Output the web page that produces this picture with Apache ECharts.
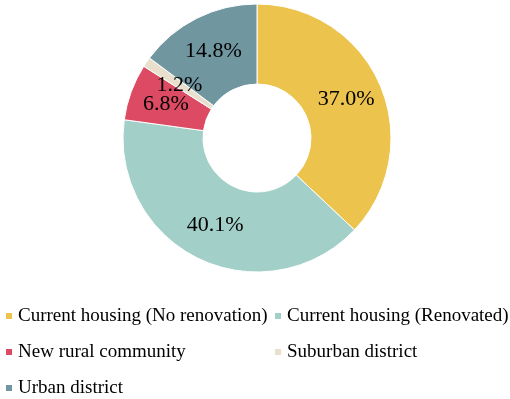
<!DOCTYPE html>
<html>
<head>
<meta charset="utf-8">
<script src="https://cdn.jsdelivr.net/npm/echarts@6/dist/echarts.min.js"></script>
<style>
  html, body { margin: 0; padding: 0; background: #fff; }
  #main { width: 510px; height: 399px; }
</style>
</head>
<body>
<div id="main"></div>
<script>
// housing types and their shares (%)
var categories = [
  'Current housing (No renovation)',
  'Current housing (Renovated)',
  'New rural community',
  'Suburban district',
  'Urban district'
];
var shares = [37.0, 40.1, 6.8, 1.2, 14.8];
var colors = ['#EBC34D', '#A2D0C8', '#DC4B63', '#E8DFCC', '#7096A0'];

var font = "'Liberation Serif', 'Times New Roman', serif";
var labelSize = 22;
var thinSlice = 3; // echarts hides inside labels of slices this thin

var myChart = echarts.init(document.getElementById('main'));

var pieData = categories.map(function (name, i) {
  var d = { name: name, value: shares[i], itemStyle: { color: colors[i] } };
  if (shares[i] < thinSlice) d.label = { show: false };
  return d;
});

var legendBase = {
  orient: 'vertical',
  padding: 0,
  itemWidth: 8,
  itemHeight: 8,
  itemGap: 16,
  icon: 'rect',
  top: 306,
  height: 100,
  textStyle: {
    fontFamily: font,
    fontSize: 19,
    lineHeight: 20,
    color: '#000'
  }
};

var option = {
  animation: false,
  legend: [
    Object.assign({}, legendBase, {
      left: 4,
      data: [categories[0], categories[2], categories[4]]
    }),
    Object.assign({}, legendBase, {
      left: 273,
      data: [categories[1], categories[3]]
    })
  ],
  series: [
    {
      type: 'pie',
      center: [257, 138],
      radius: [54, 134],
      startAngle: 90,
      clockwise: true,
      avoidLabelOverlap: false,
      itemStyle: {
        borderColor: '#fff',
        borderWidth: 1
      },
      label: {
        show: true,
        position: 'inside',
        padding: [4, 0, 0, 0],
        formatter: function (p) {
          return p.value.toFixed(1) + '%';
        },
        fontFamily: font,
        fontSize: labelSize,
        color: '#000'
      },
      labelLine: { show: false },
      emphasis: { disabled: true },
      data: pieData
    }
  ]
};

myChart.setOption(option);

// labels for the thin slices, at the slice middle from the pie's own layout
var seriesData = myChart.getModel().getSeriesByIndex(0).getData();
var extra = [];
for (var idx = 0; idx < seriesData.count(); idx++) {
  if (shares[idx] >= thinSlice) continue;
  var lay = seriesData.getItemLayout(idx);
  var mid = (lay.startAngle + lay.endAngle) / 2;
  var rm = (lay.r + lay.r0) / 2;
  extra.push({
    type: 'text',
    z: 100,
    x: lay.cx + Math.cos(mid) * rm,
    y: lay.cy + Math.sin(mid) * rm,
    style: {
      text: shares[idx].toFixed(1) + '%',
      fontFamily: font,
      fontSize: labelSize,
      fill: '#000',
      align: 'center',
      verticalAlign: 'middle',
      padding: [4, 0, 0, 0]
    }
  });
}
myChart.setOption({ graphic: { elements: extra } });
</script>
</body>
</html>
